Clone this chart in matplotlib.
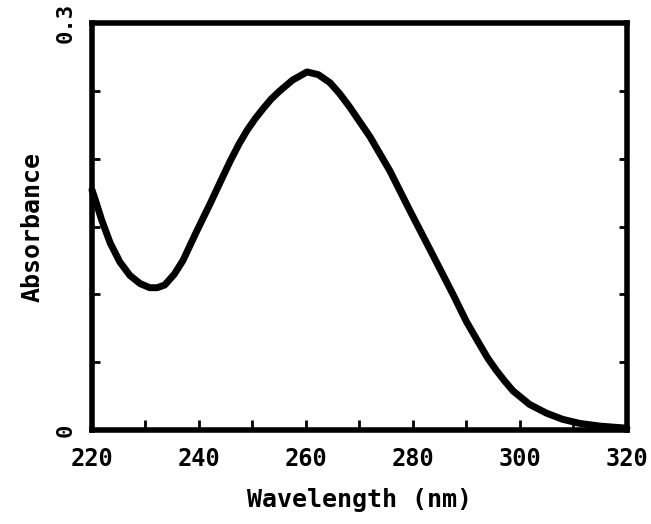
import numpy as np
import matplotlib
matplotlib.use("Agg")
import matplotlib.pyplot as plt

# spectrum
wavelength = [220.0, 220.6, 221.8, 223.4, 225.2, 227.1, 229.0, 230.8, 232.2, 233.6,
              235.4, 237.0, 239.5, 242.1, 244.0, 245.8, 247.5, 249.0, 250.5, 252.0,
              253.5, 255.1, 257.5, 260.2, 262.3, 264.5, 266.3, 268.2, 272.0, 275.7,
              279.4, 283.2, 287.5, 290.0, 292.5, 294.0, 295.6, 297.2, 298.7, 301.8,
              305.0, 308.0, 311.2, 315.0, 320.0]
absorbance = [0.177, 0.170, 0.155, 0.138, 0.124, 0.114, 0.108, 0.105, 0.105, 0.107,
              0.115, 0.125, 0.146, 0.167, 0.183, 0.198, 0.211, 0.221, 0.2295, 0.237,
              0.244, 0.250, 0.258, 0.264, 0.262, 0.256, 0.248, 0.238, 0.216, 0.191,
              0.162, 0.133, 0.100, 0.080, 0.063, 0.053, 0.044, 0.036, 0.029, 0.019,
              0.0125, 0.008, 0.005, 0.003, 0.0015]

xticks = [220, 240, 260, 280, 300, 320]
xminor = [230, 250, 270, 290, 310]
yticks = [0, 0.3]
ylabels = ["0", "0.3"]
yminor = [0.05, 0.1, 0.15, 0.2, 0.25]

font = "DejaVu Sans Mono"

fig = plt.figure(figsize=(6.51, 5.24), dpi=100)
ax = fig.add_axes([0.1413, 0.179, 0.963 - 0.1413, 0.956 - 0.179])

ax.plot(wavelength, absorbance, color="black", lw=5, solid_joinstyle="round",
        solid_capstyle="round", clip_on=False)

ax.set_xlim(220, 320)
ax.set_ylim(0, 0.3)

for s in ax.spines.values():
    s.set_linewidth(4)
    s.set_color("black")

ax.set_xticks(xticks)
ax.set_xticklabels([str(t) for t in xticks], fontfamily=font, fontweight="bold", fontsize=17)
ax.set_xticks(xminor, minor=True)
ax.tick_params(axis="x", which="both", direction="in", length=7, width=2, pad=12,
               top=False, bottom=True)

ax.set_yticks(yticks)
ax.set_yticklabels(ylabels, fontfamily=font, fontweight="bold", fontsize=16,
                   rotation=90, va="center")
ax.set_yticks(yminor, minor=True)
ax.tick_params(axis="y", which="major", length=0, pad=12)
ax.tick_params(axis="y", which="minor", direction="in", length=6, width=2,
               left=True, right=True)

ax.set_xlabel("Wavelength (nm)", fontfamily=font, fontweight="bold", fontsize=18, labelpad=12)
ax.set_ylabel("Absorbance", fontfamily=font, fontweight="bold", fontsize=18, labelpad=8)

fig.savefig("out.png", dpi=100, facecolor="white")
